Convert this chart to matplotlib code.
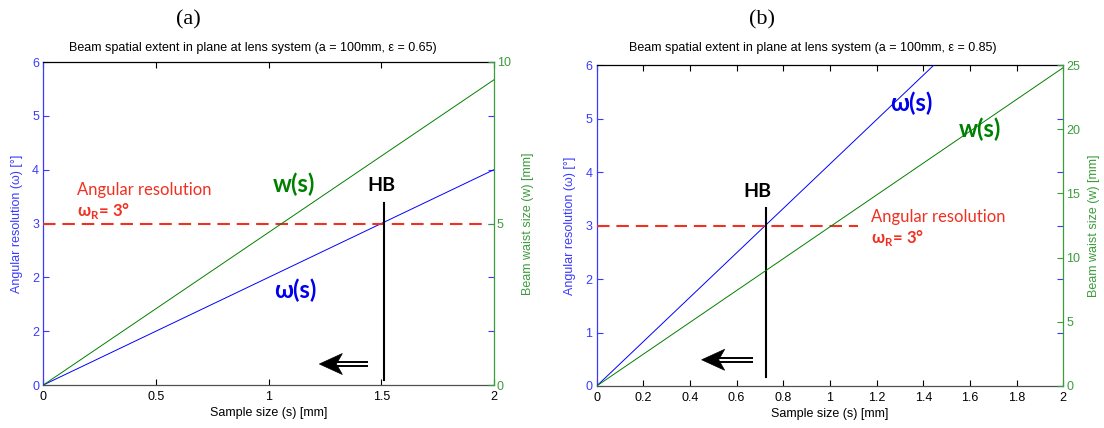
import matplotlib
matplotlib.use("Agg")
import matplotlib.pyplot as plt
from matplotlib.patches import Polygon
from matplotlib.transforms import ScaledTranslation

# ---------------- data ----------------
s_pts = [0.0, 2.0]
omega_a = [0.0, 4.0]
w_a = [0.0, 9.45]
omega_b = [0.0, 8.3]
w_b = [0.0, 24.8]

res_level = 3.0
res_end_a = 1.95
res_end_b = 1.12
hb_a = 1.51
hb_b = 0.725
hb_span_a = [0.1, 3.38]
hb_span_b = [0.17, 3.33]

xticks_a = [0, 0.5, 1, 1.5, 2]
xticklabels_a = ["0", "0.5", "1", "1.5", "2"]
xticks_b = [0, 0.2, 0.4, 0.6, 0.8, 1, 1.2, 1.4, 1.6, 1.8, 2]
xticklabels_b = ["0", "0.2", "0.4", "0.6", "0.8", "1", "1.2", "1.4", "1.6", "1.8", "2"]
yticks_left = [0, 1, 2, 3, 4, 5, 6]
yticklabels_left_a = ["0", "2", "2", "3", "4", "5", "6"]
yticklabels_left_b = ["0", "1", "2", "3", "4", "5", "6"]
yticks_right_a = [0, 5, 10]
yticks_right_b = [0, 5, 10, 15, 20, 25]

title_a = "Beam spatial extent in plane at lens system (a = 100mm, \u03b5 = 0.65)"
title_b = "Beam spatial extent in plane at lens system (a = 100mm, \u03b5 = 0.85)"

# ---------------- style ----------------
BLUE_LINE = "#0000ff"
GREEN_LINE = "#008000"
BLUE_AX = "#3a3aff"
GREEN_AX = "#3c9c3c"
RED = "#f03020"
SANS = ["Liberation Sans", "DejaVu Sans"]
CAL = ["Lato", "DejaVu Sans"]

fig = plt.figure(figsize=(11.04, 4.28), dpi=100)
W, H = 1104.0, 428.0


def make_panel(rect, xticks, xticklabels, ylabels_left, yticks_right, ymax_right):
    ax = fig.add_axes(rect)
    ax2 = ax.twinx()
    ax.set_xlim(0, 2)
    ax.set_ylim(0, 6)
    ax2.set_ylim(0, ymax_right)
    ax.set_xticks(xticks)
    ax.set_xticklabels(xticklabels, fontfamily=SANS, fontsize=9, color="black")
    ax.set_yticks(yticks_left)
    ax.set_yticklabels(ylabels_left, fontfamily=SANS, fontsize=9, color=BLUE_AX)
    ax2.set_yticks(yticks_right)
    ax2.set_yticklabels([str(v) for v in yticks_right], fontfamily=SANS, fontsize=9, color=GREEN_AX)
    ax.tick_params(axis="x", direction="in", top=True, bottom=True, length=4,
                   color="black", pad=4, width=0.8)
    ax.tick_params(axis="y", direction="in", left=True, right=True, length=4,
                   color=BLUE_AX, pad=3, width=0.8)
    ax2.tick_params(axis="y", direction="in", right=True, left=False, length=4,
                    color=GREEN_AX, pad=2, width=0.8)
    ax.spines["left"].set_color(BLUE_AX)
    ax.spines["right"].set_visible(False)
    ax.spines["top"].set_color("black")
    ax.spines["bottom"].set_color("#505050")
    for sp in ("left", "top", "bottom"):
        ax2.spines[sp].set_visible(False)
    ax2.spines["right"].set_color(GREEN_AX)
    for sp in ax.spines.values():
        sp.set_linewidth(0.9)
    ax2.spines["right"].set_linewidth(0.9)
    ax.set_xlabel("Sample size (s) [mm]", fontfamily=SANS, fontsize=9, labelpad=3)
    ax.set_ylabel("Angular resolution (\u03c9) [\u00b0]", fontfamily=SANS, fontsize=9,
                  color=BLUE_AX, labelpad=4)
    ax2.set_ylabel("Beam waist size (w) [mm]", fontfamily=SANS, fontsize=9,
                   color=GREEN_AX, labelpad=6)
    return ax, ax2


def double_arrow(ax, head, tail_x):
    # filled head + double shaft, sized in pixels
    hx, hy = head
    off = ScaledTranslation(hx, hy, ax.transData)
    t = fig.dpi_scale_trans + off
    px = 1 / 100.0
    head_poly = Polygon([(0, 0), (23 * px, 10.5 * px), (17 * px, 0), (23 * px, -10.5 * px)],
                        closed=True, facecolor="black", edgecolor="black", lw=0.5,
                        transform=t, clip_on=False, zorder=5)
    ax.add_patch(head_poly)
    x0_disp = ax.transData.transform((hx, hy))[0]
    x1_disp = ax.transData.transform((tail_x, hy))[0]
    L = (x1_disp - x0_disp) * px
    for dy in (2.0 * px, -2.0 * px):
        ax.plot([15 * px, L], [dy, dy], color="black", lw=1.4, transform=t,
                solid_capstyle="butt", clip_on=False, zorder=5)


# ---------------- panel (a) ----------------
axA, axA2 = make_panel([43.3 / W, 1 - 385 / H, (494 - 43.3) / W, (385 - 62) / H],
                       xticks_a, xticklabels_a, yticklabels_left_a, yticks_right_a, 10)
axA.yaxis.set_label_coords(-0.046, 0.5)
axA2.yaxis.set_label_coords(1.063, 0.5)
axA.plot(s_pts, omega_a, color=BLUE_LINE, lw=0.7, zorder=3)
axA2.plot(s_pts, w_a, color=GREEN_LINE, lw=0.7, zorder=3)
axA.plot([0, res_end_a], [res_level, res_level], color=RED, lw=1.5,
         linestyle=(0, (6, 3.3)), zorder=4)
axA.plot([hb_a, hb_a], hb_span_a, color="black", lw=1.5, zorder=4)
axA.text(1.50, 3.70, "HB", fontfamily=CAL, fontweight="bold", fontsize=14,
         ha="center", va="center", color="black")
axA.text(1.113, 3.72, "w(s)", fontfamily=CAL, fontweight="bold", fontsize=17,
         ha="center", va="center", color=GREEN_LINE)
axA.text(1.12, 1.76, "\u03c9(s)", fontfamily=CAL, fontweight="bold", fontsize=17,
         ha="center", va="center", color="#0000ee")
axA.text(0.15, 3.62, "Angular resolution", fontfamily=CAL, fontsize=12,
         ha="left", va="center", color=RED)
axA.text(0.15, 3.23, "\u03c9$_{\\mathregular{R}}$= 3\u00b0", fontfamily=CAL, fontweight="bold",
         fontsize=12, ha="left", va="center", color=RED)
double_arrow(axA, (1.225, 0.39), 1.44)

# ---------------- panel (b) ----------------
axB, axB2 = make_panel([596.7 / W, 1 - 386 / H, (1063.3 - 596.7) / W, (386 - 65) / H],
                       xticks_b, xticklabels_b, yticklabels_left_b, yticks_right_b, 25)
axB.yaxis.set_label_coords(-0.045, 0.5)
axB2.yaxis.set_label_coords(1.054, 0.5)
axB.plot(s_pts, omega_b, color=BLUE_LINE, lw=0.7, zorder=3)
axB2.plot(s_pts, w_b, color=GREEN_LINE, lw=0.7, zorder=3)
axB.plot([0, res_end_b], [res_level, res_level], color=RED, lw=1.5,
         linestyle=(0, (6, 3.3)), zorder=4)
axB.plot([hb_b, hb_b], hb_span_b, color="black", lw=1.5, zorder=4)
axB.text(0.69, 3.63, "HB", fontfamily=CAL, fontweight="bold", fontsize=14,
         ha="center", va="center", color="black")
axB.text(1.347, 5.29, "\u03c9(s)", fontfamily=CAL, fontweight="bold", fontsize=17,
         ha="center", va="center", color="#0000ee")
axB.text(1.643, 4.79, "w(s)", fontfamily=CAL, fontweight="bold", fontsize=17,
         ha="center", va="center", color=GREEN_LINE)
axB.text(1.176, 3.16, "Angular resolution", fontfamily=CAL, fontsize=12,
         ha="left", va="center", color=RED)
axB.text(1.176, 2.77, "\u03c9$_{\\mathregular{R}}$= 3\u00b0", fontfamily=CAL, fontweight="bold",
         fontsize=12, ha="left", va="center", color=RED)
double_arrow(axB, (0.45, 0.49), 0.67)

# ---------------- titles ----------------
fig.text(188 / W, 1 - 20 / H, "(a)", fontfamily=["Liberation Serif"], fontsize=16,
         ha="center", va="center")
fig.text(762 / W, 1 - 20 / H, "(b)", fontfamily=["Liberation Serif"], fontsize=16,
         ha="center", va="center")
fig.text(253 / W, 1 - 48 / H, title_a, fontfamily=SANS, fontsize=9, ha="center", va="center")
fig.text(813 / W, 1 - 48 / H, title_b, fontfamily=SANS, fontsize=9, ha="center", va="center")

fig.savefig("out.png", dpi=100)
